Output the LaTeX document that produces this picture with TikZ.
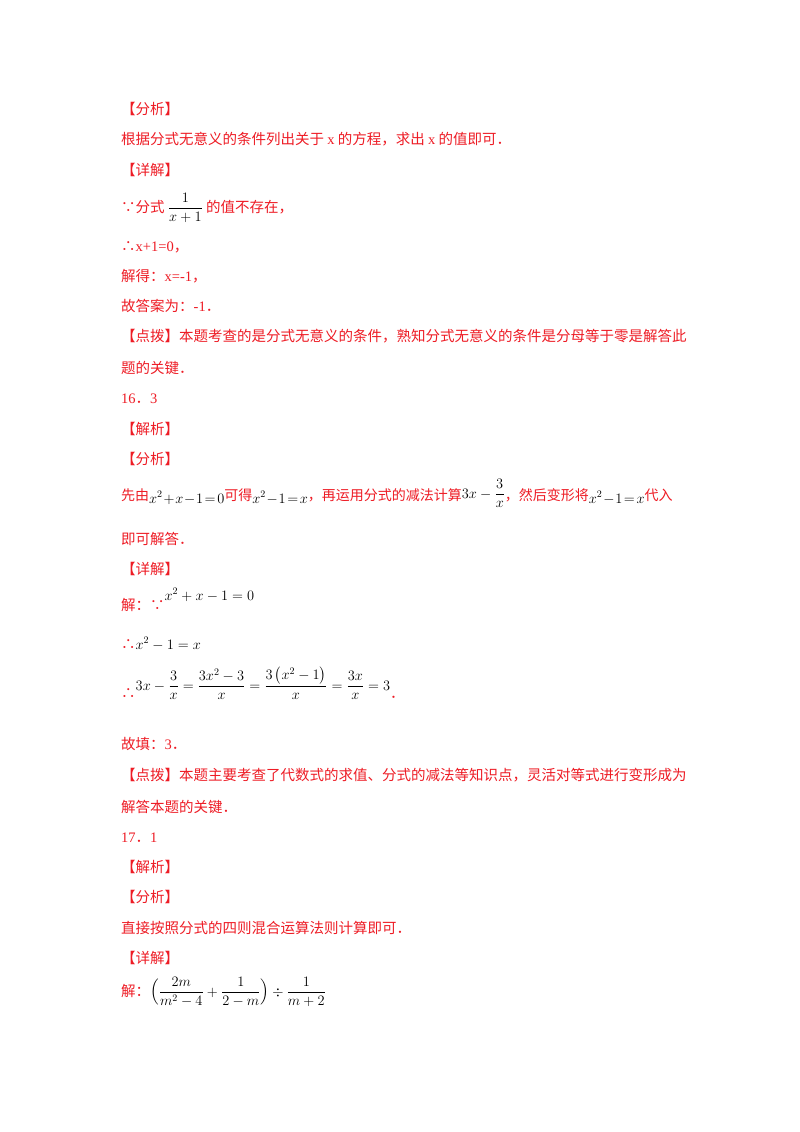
\documentclass[tikz,border=0pt]{standalone}
\usepackage{fontspec}
\usepackage{amsmath,amssymb}
\setmainfont{Liberation Serif}
\newfontfamily\cjk{Noto Sans CJK SC}
\definecolor{txtred}{HTML}{EE1C25}
\newcommand{\mth}[1]{{\color{black}$#1$}}
\begin{document}
\begin{tikzpicture}[x=1pt,y=-1pt,
  ln/.style={anchor=base west,inner sep=0pt,text=txtred,font=\cjk\fontsize{14.5}{17}\selectfont}]
\useasboundingbox[fill=white] (0,0) rectangle (800,1132);
\node[ln] (l1) at (121,114) {【分析】};
\node[ln] (l2) at (121,144) {根据分式无意义的条件列出关于 {\rmfamily x} 的方程，求出 {\rmfamily x} 的值即可．};
\node[ln] (l3) at (121,175) {【详解】};
\node[ln] (l4) at (121,212) {∵分式 \mth{\dfrac{1}{x+1}} 的值不存在，};
\node[ln] (l5) at (121,251) {∴{\rmfamily x+1=0}，};
\node[ln] (l6) at (121,281) {解得：{\rmfamily x=-1}，};
\node[ln] (l7) at (121,311) {故答案为：{\rmfamily -1}．};
\node[ln] (l8) at (121,341) {【点拨】本题考查的是分式无意义的条件，熟知分式无意义的条件是分母等于零是解答此};
\node[ln] (l9) at (121,373) {题的关键．};
\node[ln] (l10) at (121,403) {{\rmfamily 16}．{\rmfamily 3}};
\node[ln] (l11) at (121,434) {【解析】};
\node[ln] (l12) at (121,464) {【分析】};
\node[ln,font=\cjk\fontsize{14}{17}\selectfont] (l13) at (121,500) {先由\raisebox{-3pt}{\mth{x^2\!+\!x\!-\!1\!=\!0}}可得\raisebox{-3pt}{\mth{x^2\!-\!1\!=\!x}}，再运用分式的减法计算\raisebox{2pt}{\mth{3x-\dfrac{3}{x}}}，然后变形将\raisebox{-3pt}{\mth{x^2\!-\!1\!=\!x}}代入};
\node[ln] (l14) at (121,544) {即可解答．};
\node[ln] (l15) at (121,574) {【详解】};
\node[ln] (l16) at (121,610) {解：∵\raisebox{10pt}{\mth{x^2+x-1=0}}};
\node[ln] (l17) at (121,649) {∴\mth{x^2-1=x}};
\node[ln] (l18) at (121,698) {∴\raisebox{8pt}{\mth{3x-\dfrac{3}{x}=\dfrac{3x^2-3}{x}=\dfrac{3\left(x^2-1\right)}{x}=\dfrac{3x}{x}=3}}．};
\node[ln] (l19) at (121,749) {故填：{\rmfamily 3}．};
\node[ln] (l20) at (121,780) {【点拨】本题主要考查了代数式的求值、分式的减法等知识点，灵活对等式进行变形成为};
\node[ln] (l21) at (121,812) {解答本题的关键．};
\node[ln] (l22) at (121,842) {{\rmfamily 17}．{\rmfamily 1}};
\node[ln] (l23) at (121,872) {【解析】};
\node[ln] (l24) at (121,902) {【分析】};
\node[ln] (l25) at (121,933) {直接按照分式的四则混合运算法则计算即可．};
\node[ln] (l26) at (121,963) {【详解】};
\node[ln] (l27) at (121,996) {解：\mth{\Big(\dfrac{2m}{m^2-4}+\dfrac{1}{2-m}\Big)\div\dfrac{1}{m+2}}};
\end{tikzpicture}
\end{document}
